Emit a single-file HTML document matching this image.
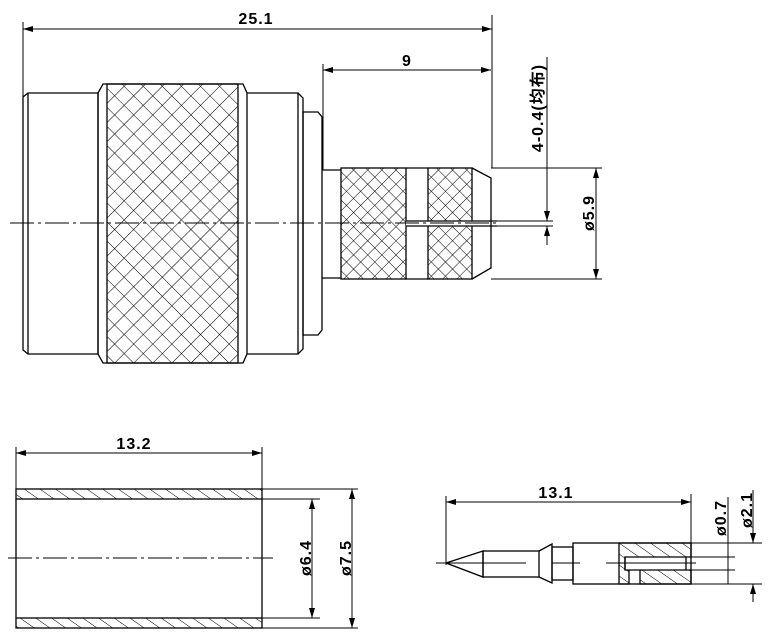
<!DOCTYPE html>
<html><head><meta charset="utf-8"><style>html,body{margin:0;padding:0;background:#fff}svg{display:block}</style></head>
<body>
<svg width="775" height="636" viewBox="0 0 775 636" xmlns="http://www.w3.org/2000/svg" font-family="'Liberation Sans','Noto Sans CJK SC',sans-serif" font-weight="bold">
<defs>
<pattern id="kn" width="13.5" height="13.5" patternUnits="userSpaceOnUse" patternTransform="rotate(45)">
<path d="M0 0H13.5M0 0V13.5" stroke="#000" stroke-width="1.1" fill="none"/>
</pattern>
<pattern id="kn2" width="10" height="10" patternUnits="userSpaceOnUse" patternTransform="rotate(45)">
<path d="M0 0H10M0 0V10" stroke="#000" stroke-width="1" fill="none"/>
</pattern>
<pattern id="ht" width="9" height="9" patternUnits="userSpaceOnUse" patternTransform="rotate(-55)">
<path d="M0 0V9" stroke="#000" stroke-width="1" fill="none"/>
</pattern>
<marker id="ar" viewBox="0 0 10 6" refX="10" refY="3" markerWidth="10" markerHeight="6" orient="auto-start-reverse" markerUnits="userSpaceOnUse"><path d="M0 0L10 3L0 6z" fill="#000"/></marker>
</defs>
<g stroke="#000" fill="none" stroke-width="1.3">
<path d="M23 97L28 93H98V354H28L23 350Z"/><path d="M28 93V354"/>
<path d="M98 93L103 84H243L247 93V354L243 363H103L98 354Z"/>
<rect x="107" y="84" width="131" height="279" fill="url(#kn)"/>
<path d="M247 93H298L303 98V349L298 354H247"/><path d="M298 93V354"/>
<path d="M303 112H318L322 117V330L318 335H303Z"/>
<path d="M322 170H341M322 278H341"/>
<rect x="341" y="168" width="65" height="111" fill="url(#kn2)"/>
<path d="M406 168H428M406 279H428"/>
<rect x="428" y="168" width="44" height="111" fill="url(#kn2)"/>
<rect x="406" y="221" width="91" height="5" fill="#fff" stroke="none"/>
<path d="M406 221H497M406 226H497"/>
<path d="M472 168L491 178V268L472 279"/>
</g>
<g stroke="#000" fill="none" stroke-width="1">
<path d="M10 223H500" stroke-dasharray="24,4,3,4"/>
<path d="M23 22V340M492 15V168M323 64V170"/>
<path d="M23 29H492" marker-start="url(#ar)" marker-end="url(#ar)"/>
<path d="M323 70H491" marker-start="url(#ar)" marker-end="url(#ar)"/>
<path d="M491 168H602M491 279H602"/>
<path d="M596 168V279" marker-start="url(#ar)" marker-end="url(#ar)"/>
<path d="M497 221H553M497 226H553"/>
<path d="M547 57V221" marker-end="url(#ar)"/><path d="M547 245V226" marker-end="url(#ar)"/>
</g>
<g font-size="16" fill="#000" letter-spacing="1">
<text x="256" y="24" text-anchor="middle">25.1</text>
<text x="407" y="66" text-anchor="middle">9</text>
<text transform="translate(594 213) rotate(-90)" text-anchor="middle">ø5.9</text>
<text transform="translate(543 108) rotate(-90)" text-anchor="middle" font-size="16">4-0.4(均布)</text>
</g>
<g stroke="#000" fill="none" stroke-width="1.3">
<rect x="16" y="489" width="246" height="10" fill="url(#ht)"/>
<rect x="16" y="618" width="246" height="10" fill="url(#ht)"/>
<path d="M16 499V618M262 499V618"/>
</g>
<g stroke="#000" fill="none" stroke-width="1">
<path d="M16 447V489M262 447V489"/>
<path d="M16 453H262" marker-start="url(#ar)" marker-end="url(#ar)"/>
<path d="M262 489H358M262 499H320M262 618H320M262 628H358"/>
<path d="M312 499V618" marker-start="url(#ar)" marker-end="url(#ar)"/>
<path d="M352 489V628" marker-start="url(#ar)" marker-end="url(#ar)"/>
<path d="M8 558H273" stroke-dasharray="24,4,3,4"/>
</g>
<g font-size="16" fill="#000" letter-spacing="1">
<text x="134" y="449" text-anchor="middle">13.2</text>
<text transform="translate(311 558) rotate(-90)" text-anchor="middle">ø6.4</text>
<text transform="translate(351 558) rotate(-90)" text-anchor="middle">ø7.5</text>
</g>
<g stroke="#000" fill="none" stroke-width="1.3">
<path d="M446 563L483 551V577Z"/>
<rect x="483" y="551" width="56" height="26"/>
<path d="M539 551L552 544V583L539 577"/>
<rect x="552" y="547" width="21" height="33"/>
<rect x="573" y="543" width="118" height="41"/>
<path d="M619 543H691V557H625V570H691V584H640V570H629V584H619Z" fill="url(#ht)"/>
<path d="M625 557V570M686 557V570"/>
</g>
<g stroke="#000" fill="none" stroke-width="1">
<path d="M436 563H526M552 563H580M606 563H696"/>
<path d="M446 496V565M691 494V584"/>
<path d="M446 502H691" marker-start="url(#ar)" marker-end="url(#ar)"/>
<path d="M691 557H735M691 570H735M691 543H762M691 584H762"/>
<path d="M728 497V584"/>
<path d="M753 490V543" marker-end="url(#ar)"/><path d="M753 602V584" marker-end="url(#ar)"/>
</g>
<g font-size="16" fill="#000" letter-spacing="1">
<text x="556" y="498" text-anchor="middle">13.1</text>
<text transform="translate(726 518) rotate(-90)" text-anchor="middle">ø0.7</text>
<text transform="translate(752 510) rotate(-90)" text-anchor="middle">ø2.1</text>
</g>
</svg>
</body></html>
